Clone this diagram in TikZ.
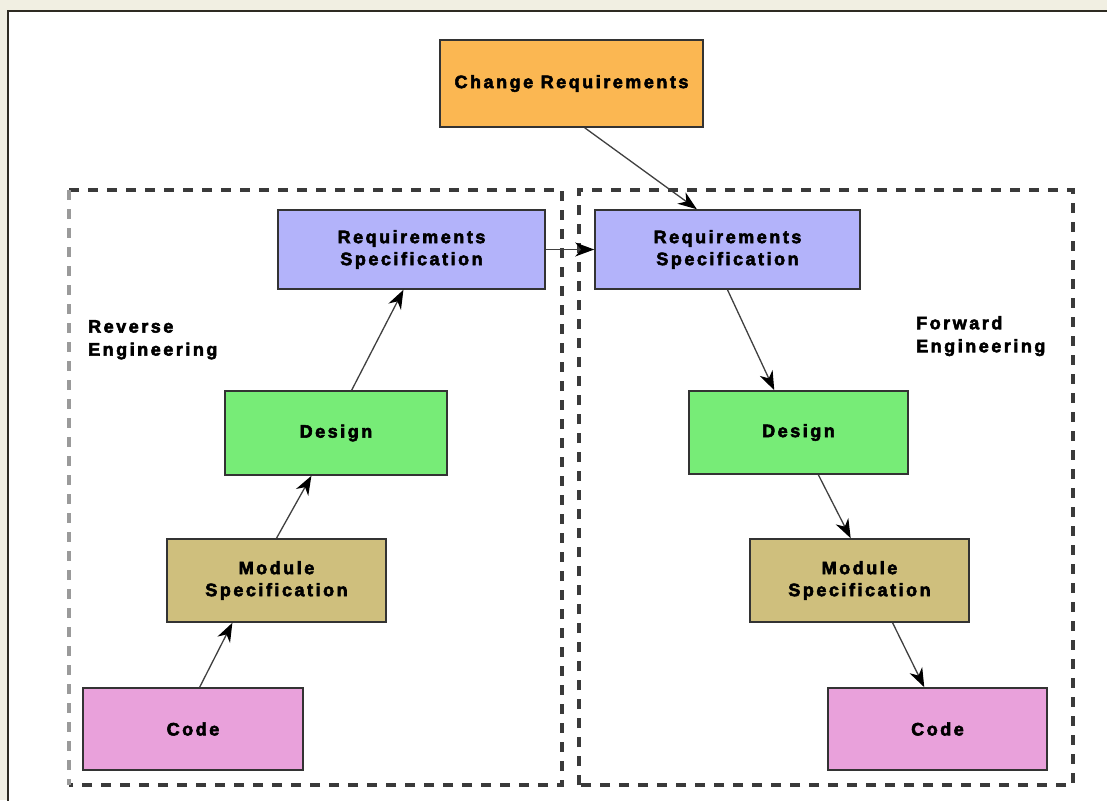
\documentclass[tikz,border=0pt]{standalone}
\usepackage{fontspec}
\setmainfont{Liberation Sans}[LetterSpace=14,BoldFeatures={FakeBold=3}]
\usetikzlibrary{arrows.meta,calc}
\definecolor{bgbeige}{HTML}{F1EFE2}
\definecolor{frameline}{HTML}{2E2B22}
\definecolor{dashc}{HTML}{3A3A3A}
\definecolor{dashl}{HTML}{9A9A9A}
\definecolor{cOrange}{HTML}{FBB752}
\definecolor{cLav}{HTML}{B3B3FA}
\definecolor{cGreen}{HTML}{77EC77}
\definecolor{cTan}{HTML}{CFBF7D}
\definecolor{cPink}{HTML}{E9A1DB}
\begin{document}
\begin{tikzpicture}[x=1pt,y=-1pt,
  boxst/.style={draw=black!80,line width=1.6pt,inner sep=0pt,
    font=\fontsize{18}{22}\selectfont\bfseries,align=center,
    minimum width=#1},
  grp/.style={draw=dashc,line width=3.5pt,dash pattern=on 10pt off 9pt},
  conn/.style={draw=black!75,line width=1.3pt,
    -{Stealth[length=19pt,width=14pt,inset=6pt,color=black]}},
  lbl/.style={font=\fontsize{18}{23}\selectfont\bfseries,align=left,anchor=north west,inner sep=0pt}
]
\useasboundingbox (0,0) rectangle (1107,800);
\fill[bgbeige] (0,0) rectangle (1107,800);
\fill[white] (8,11) rectangle (1112,805);
\draw[frameline,line width=2.2pt] (8,805) -- (8,11) -- (1112,11);

% dashed groups
\draw[grp] (69,190) -- (562,190) -- (562,785) -- (69,785);
\draw[grp,draw=dashl] (69,190) -- (69,785);
\draw[grp] (579,785) -- (579,190) -- (1073,190) -- (1073,785) -- cycle;

% nodes
\node[boxst=263pt,fill=cOrange,minimum height=87pt] (chg) at (571.5,83.5) {Change Requirements};
\node[boxst=267pt,fill=cLav,minimum height=79pt] (lR) at (411.5,249.5) {Requirements\\Specification};
\node[boxst=265pt,fill=cLav,minimum height=79pt] (rR) at (727.5,249.5) {Requirements\\Specification};
\node[boxst=222pt,fill=cGreen,minimum height=84pt] (lD) at (336,433) {Design};
\node[boxst=219pt,fill=cGreen,minimum height=83pt] (rD) at (798.5,432.5) {Design};
\node[boxst=219pt,fill=cTan,minimum height=83pt] (lM) at (276.5,580.5) {Module\\Specification};
\node[boxst=219pt,fill=cTan,minimum height=83pt] (rM) at (859.5,580.5) {Module\\Specification};
\node[boxst=220pt,fill=cPink,minimum height=82pt] (lC) at (193,729) {Code};
\node[boxst=219pt,fill=cPink,minimum height=82pt] (rC) at (937.5,729) {Code};

% labels
\node[lbl] (revl) at (88,320) {Reverse\\Engineering};
\node[lbl] (fwdl) at (916,316) {Forward\\Engineering};

% connectors
\draw[conn] ($(chg.south west)!0.55!(chg.south east)$) -- ($(rR.north west)!0.385!(rR.north east)$);
\draw[conn] (lR.east) -- (rR.west);
\draw[conn] (rR.south) -- ($(rD.north west)!0.39!(rD.north east)$);
\draw[conn] ($(rD.south west)!0.59!(rD.south east)$) -- ($(rM.north west)!0.46!(rM.north east)$);
\draw[conn] ($(rM.south west)!0.65!(rM.south east)$) -- ($(rC.north west)!0.44!(rC.north east)$);
\draw[conn] ($(lC.north west)!0.53!(lC.north east)$) -- ($(lM.south west)!0.30!(lM.south east)$);
\draw[conn] ($(lM.north west)!0.50!(lM.north east)$) -- ($(lD.south west)!0.39!(lD.south east)$);
\draw[conn] ($(lD.north west)!0.57!(lD.north east)$) -- ($(lR.south west)!0.47!(lR.south east)$);
\end{tikzpicture}
\end{document}
